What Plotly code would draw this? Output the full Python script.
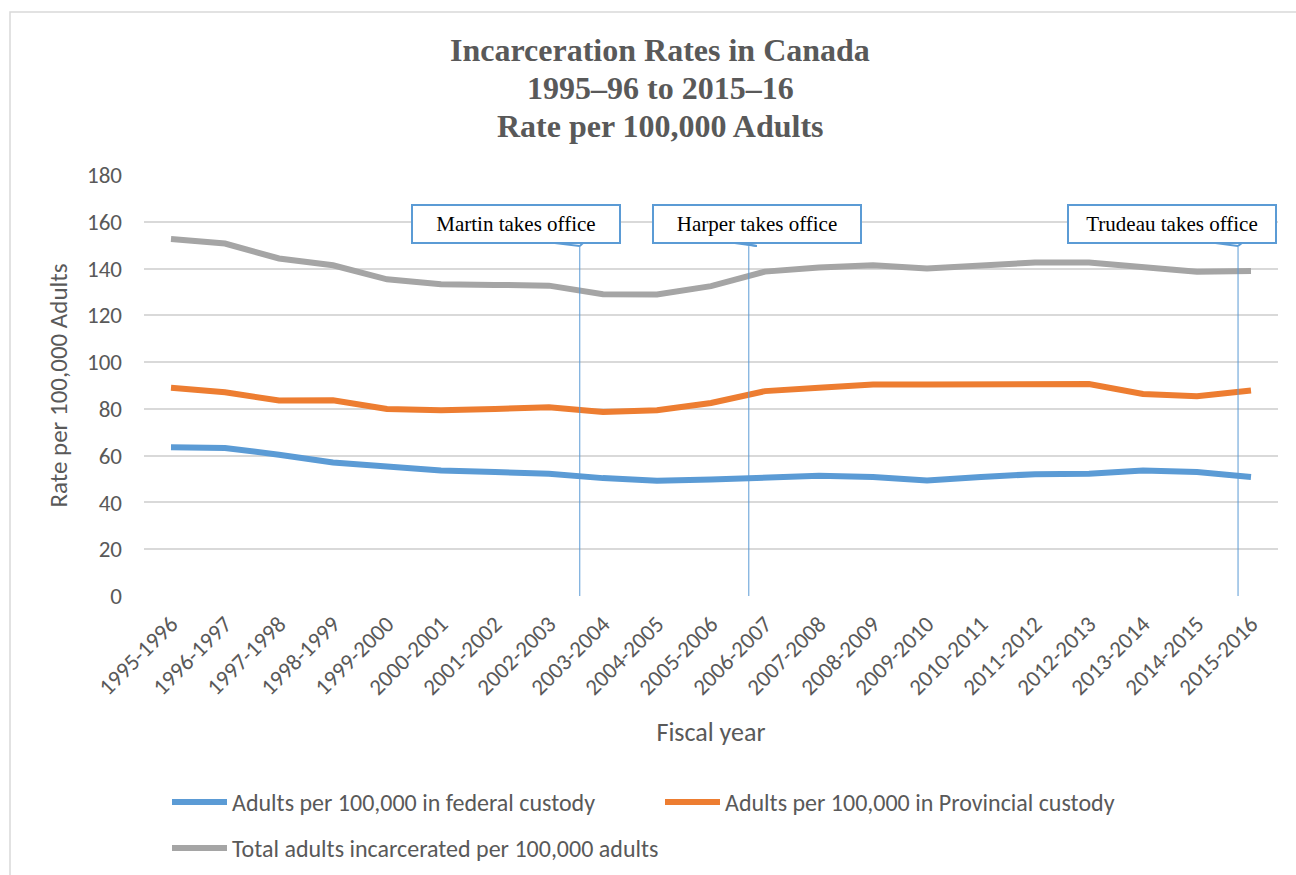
import plotly.graph_objects as go

years = ["1995-1996", "1996-1997", "1997-1998", "1998-1999", "1999-2000", "2000-2001",
         "2001-2002", "2002-2003", "2003-2004", "2004-2005", "2005-2006", "2006-2007",
         "2007-2008", "2008-2009", "2009-2010", "2010-2011", "2011-2012", "2012-2013",
         "2013-2014", "2014-2015", "2015-2016"]
federal = [63.6, 63.3, 60.4, 57.1, 55.4, 53.7, 53.0, 52.3, 50.4, 49.3, 49.8,
           50.4, 51.4, 50.9, 49.4, 50.9, 52.1, 52.3, 53.7, 53.0, 50.9]
provincial = [89.0, 87.1, 83.6, 83.7, 80.0, 79.4, 80.0, 80.7, 78.7, 79.4, 82.5,
              87.6, 89.0, 90.4, 90.4, 90.4, 90.6, 90.6, 86.4, 85.4, 87.9]
total = [152.6, 150.7, 144.3, 141.4, 135.4, 133.3, 133.0, 132.7, 129.0, 128.9, 132.5,
         138.7, 140.4, 141.4, 140.0, 141.1, 142.6, 142.6, 140.7, 138.6, 139.0]

series_names = ["Adults per 100,000 in federal custody",
                "Adults per 100,000 in Provincial custody",
                "Total adults incarcerated per 100,000 adults"]
series_colors = ["#5B9BD5", "#ED7D31", "#A5A5A5"]

title_lines = ["Incarceration Rates in Canada", "1995–96 to 2015–16", "Rate per 100,000 Adults"]

events = ["Martin takes office", "Harper takes office", "Trudeau takes office"]
event_x = [7.57, 10.7, 19.76]       # position of marker line (category index)
box_x = [6.39, 10.85, 18.54]        # centre of callout box (category index)
# callout pointer wedges: (left base, tip, right base) in category index
wedge_x = [(6.95, 7.57, 7.65), (10.3, 10.85, 10.45), (19.2, 19.76, 19.85)]

SANS = "Carlito, Calibri, 'Liberation Sans Narrow', 'Liberation Sans', sans-serif"
SERIF = "'Liberation Serif', 'Times New Roman', serif"
TXT = "#595959"
BLUE = "#5B9BD5"

fig = go.Figure()
legends = ["legend", "legend", "legend2"]
for name, vals, col, lg in zip(series_names, [federal, provincial, total], series_colors, legends):
    fig.add_trace(go.Scatter(x=years, y=vals, mode="lines", name=name,
                             line=dict(color=col, width=6), legend=lg))

box_y = 159.0
box_bottom = 151.3
tip_y = 149.6
for ev, ex, bx, wx in zip(events, event_x, box_x, wedge_x):
    fig.add_shape(type="line", xref="x", yref="y", x0=ex, x1=ex, y0=0, y1=tip_y,
                  line=dict(color=BLUE, width=1), layer="above")
    fig.add_annotation(x=bx, y=box_y, xref="x", yref="y", text=ev, showarrow=False,
                       font=dict(family=SERIF, size=21, color="#000000"),
                       bordercolor=BLUE, borderwidth=2, borderpad=3,
                       bgcolor="white", width=200, height=30)
    fig.add_shape(type="line", xref="x", yref="y", x0=wx[0], x1=wx[1], y0=box_bottom, y1=tip_y,
                  line=dict(color=BLUE, width=2), layer="above")
    fig.add_shape(type="line", xref="x", yref="y", x0=wx[1], x1=wx[2], y0=tip_y, y1=box_bottom,
                  line=dict(color=BLUE, width=2), layer="above")

# chart title (three centred lines)
for line_txt, py in zip(title_lines, [50, 88, 126]):
    fig.add_annotation(x=(660 - 144) / 1134, y=(596 - py) / 421, xref="paper", yref="paper",
                       xanchor="center", yanchor="middle", showarrow=False,
                       text="<b>" + line_txt + "</b>",
                       font=dict(family=SERIF, size=32, color=TXT))

# outer chart frame
fig.add_shape(type="rect", xref="paper", yref="paper",
              x0=(10 - 144) / 1134, x1=(1300 - 144) / 1134,
              y0=(596 - 880) / 421, y1=(596 - 12) / 421,
              line=dict(color="#D9D9D9", width=1.5), layer="below")

fig.update_layout(
    width=1296, height=875,
    margin=dict(l=144, r=18, t=175, b=279, autoexpand=False),
    paper_bgcolor="white", plot_bgcolor="white",
    xaxis=dict(type="category", range=[-0.5, 20.5], tickangle=-45, showgrid=False, showline=False,
               ticks="", ticklabelstandoff=9, tickfont=dict(family=SANS, size=23, color=TXT),
               title=dict(text="Fiscal year", font=dict(family=SANS, size=26, color=TXT), standoff=22)),
    yaxis=dict(range=[0, 180], dtick=20, showgrid=True, gridcolor="#D9D9D9", gridwidth=1.5,
               zeroline=False, showline=False, ticks="", ticklabelstandoff=21,
               tickfont=dict(family=SANS, size=23, color=TXT),
               title=dict(text="Rate per 100,000 Adults", font=dict(family=SANS, size=25, color=TXT), standoff=12)),
    legend=dict(orientation="h", x=(167 - 144) / 1134, xanchor="left",
                y=(596 - 780) / 421, yanchor="top", itemwidth=55,
                font=dict(family=SANS, size=24, color=TXT),
                entrywidth=423, entrywidthmode="pixels", bgcolor="rgba(0,0,0,0)"),
    legend2=dict(orientation="h", x=(167 - 144) / 1134, xanchor="left",
                 y=(596 - 826) / 421, yanchor="top", itemwidth=55,
                 font=dict(family=SANS, size=24, color=TXT), bgcolor="rgba(0,0,0,0)"),
    showlegend=True,
)

fig.write_html("out.html")
